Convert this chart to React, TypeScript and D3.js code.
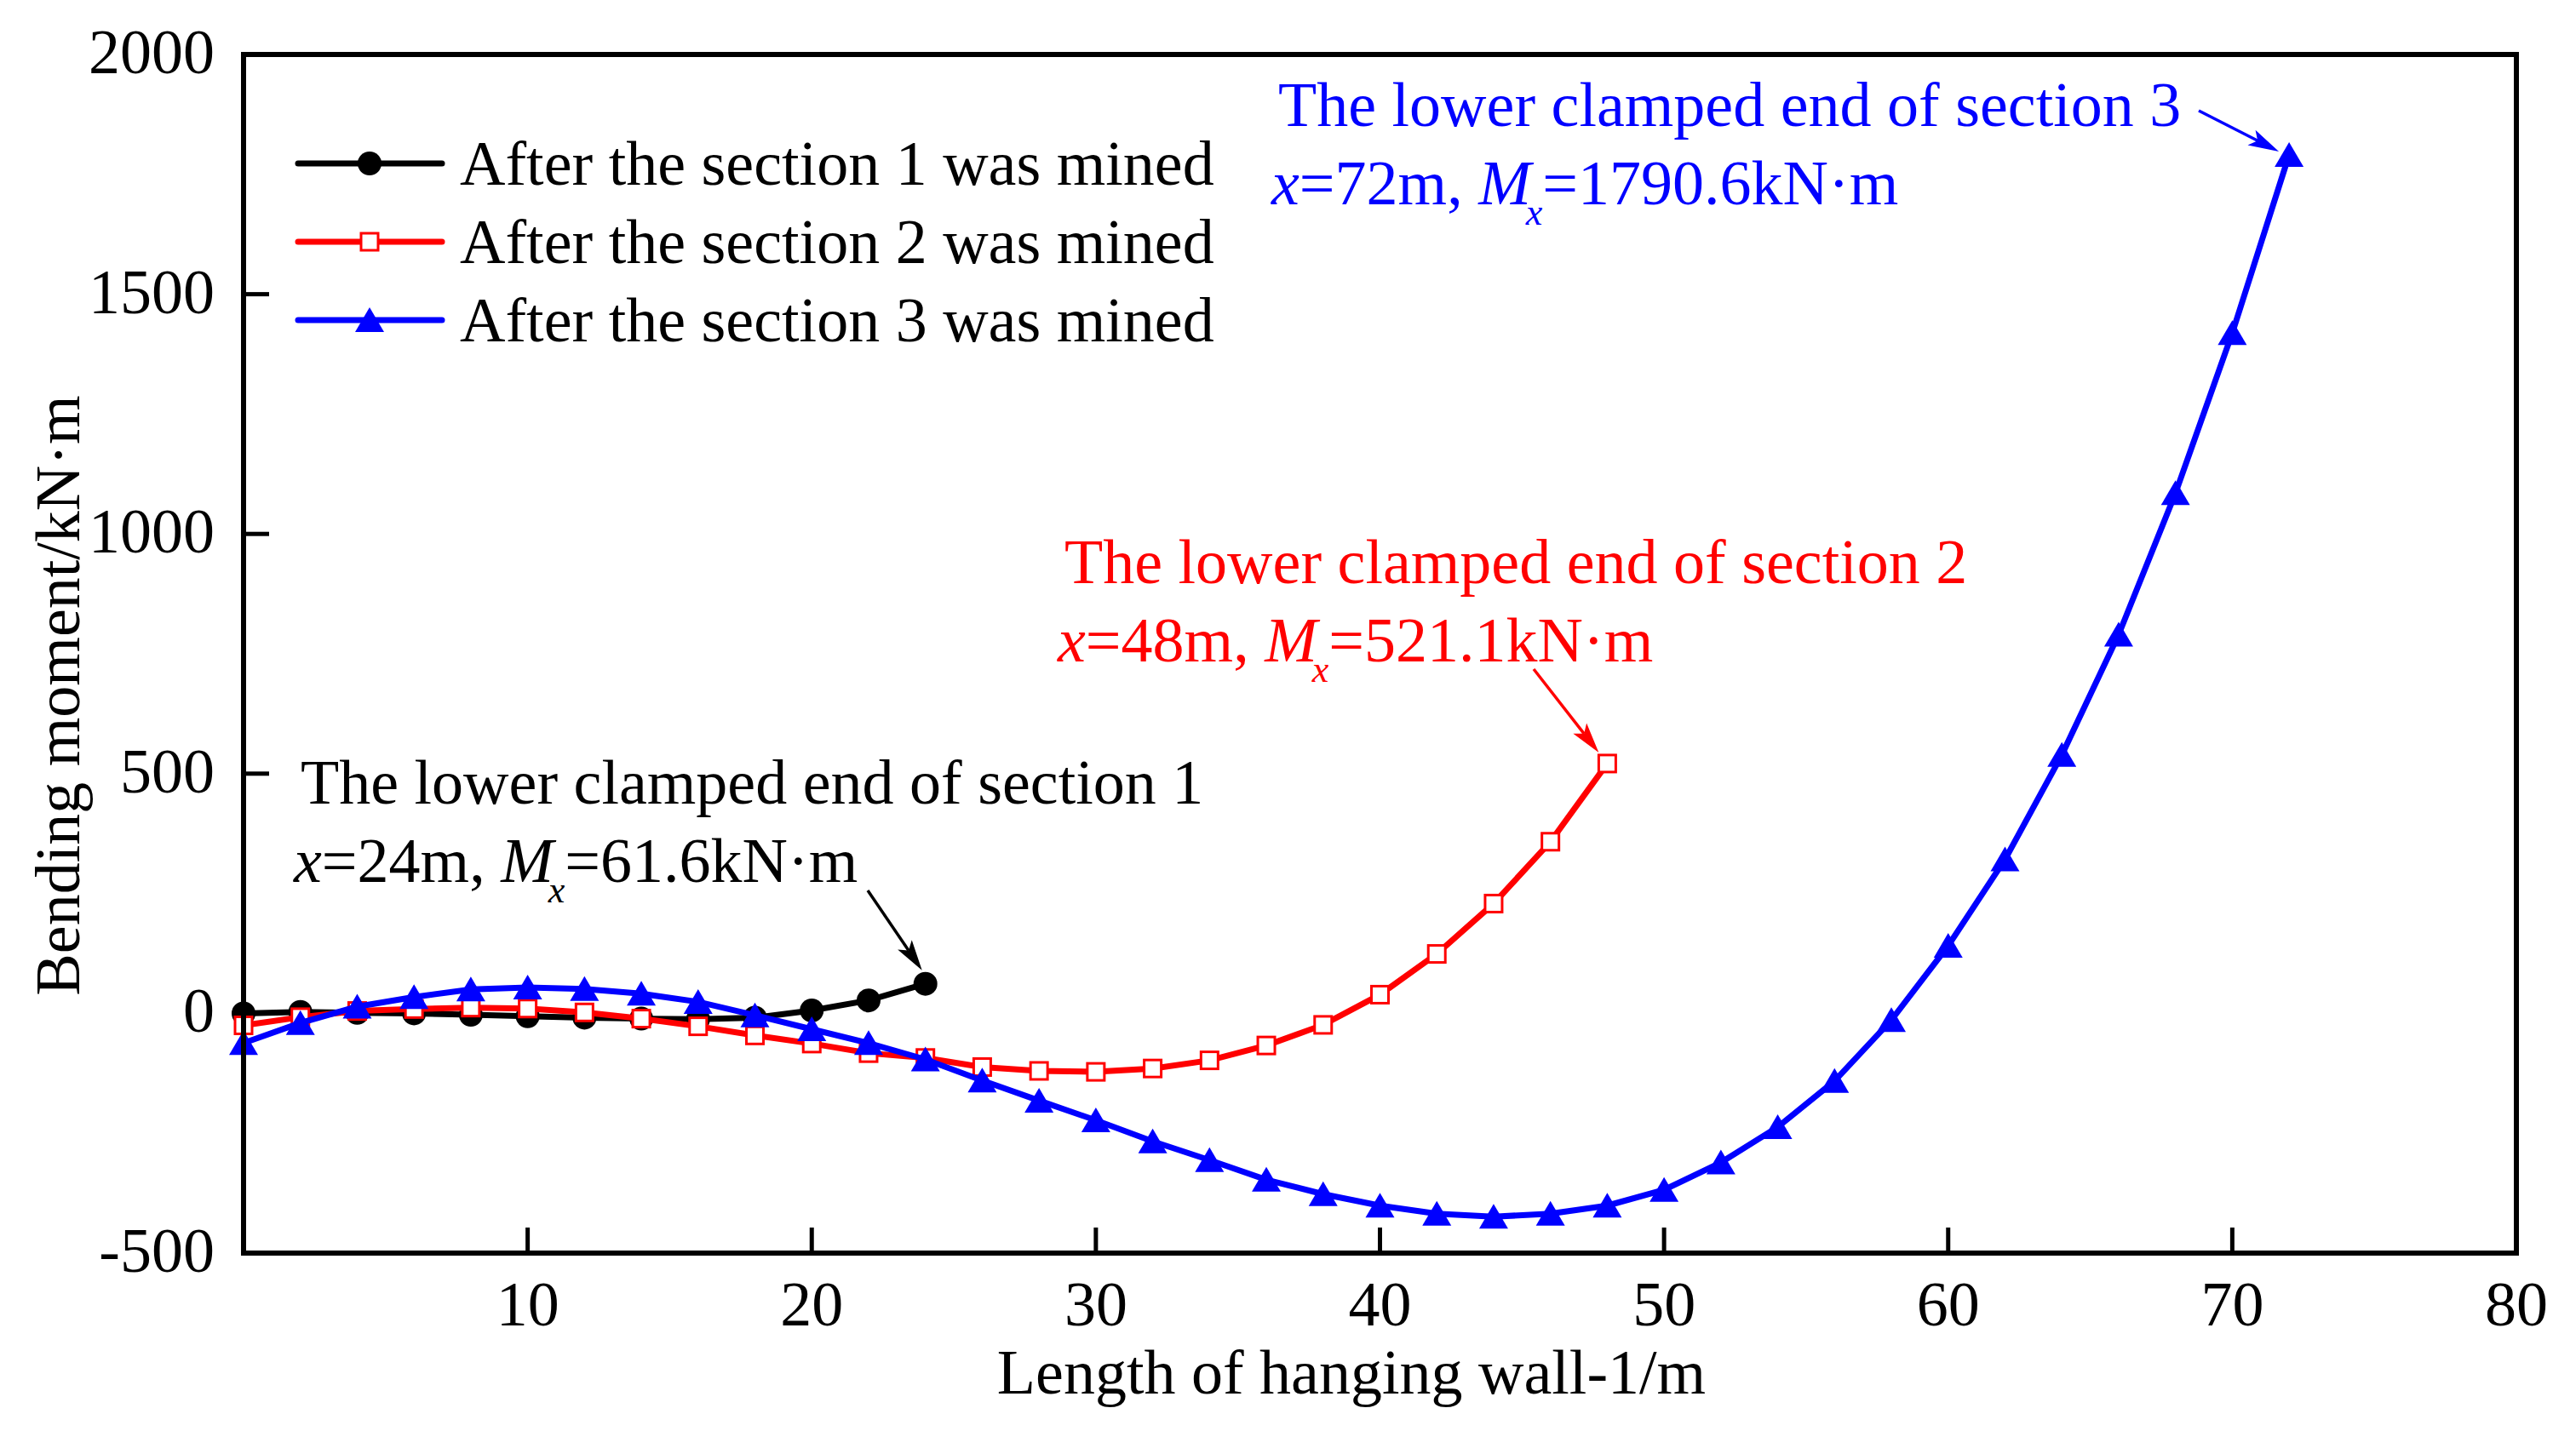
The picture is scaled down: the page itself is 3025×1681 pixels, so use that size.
import * as d3 from "d3";

// x positions (m)
const xs1 = d3.range(0, 25, 2);
const xs2 = d3.range(0, 49, 2);
const xs3 = d3.range(0, 73, 2);

// bending moment values (kN·m)
const m1 = [0, 3, 1, 0, -3, -6, -9, -11, -12, -9, 6, 27, 61.6];
const m2 = [-25, -8, 5, 9, 12, 10, 2, -11, -27, -46, -63, -83, -93, -112, -120, -122, -115, -98, -67, -24, 39, 124, 229, 358, 521.1];
const m3 = [-62, -20, 14, 34, 50, 54, 51, 41, 24, -4, -33, -62, -96, -140, -182, -223, -267, -306, -347, -377, -401, -418, -424, -418, -401, -368, -311, -237, -141, -14, 141, 321, 539, 790, 1085, 1419, 1790.6];

const xTicks = [10, 20, 30, 40, 50, 60, 70, 80];
const yTicks = [-500, 0, 500, 1000, 1500, 2000];

const legendLabels = [
  "After the section 1 was mined",
  "After the section 2 was mined",
  "After the section 3 was mined",
];

const W = 3025;
const H = 1681;
const FONT = "'Times New Roman', 'Liberation Serif', serif";
const FS = 74;

type Pt = { x: number; y: number };

export default function App() {
  const x = d3.scaleLinear().domain([0, 80]).range([286, 2955]);
  const y = d3.scaleLinear().domain([-500, 2000]).range([1472, 64]);

  const s1: Pt[] = xs1.map((v, i) => ({ x: v, y: m1[i] }));
  const s2: Pt[] = xs2.map((v, i) => ({ x: v, y: m2[i] }));
  const s3: Pt[] = xs3.map((v, i) => ({ x: v, y: m3[i] }));

  const line = d3
    .line<Pt>()
    .x((d) => x(d.x))
    .y((d) => y(d.y));

  const tri = (cx: number, cy: number) =>
    `M${cx},${cy - 15}L${cx - 17},${cy + 14}L${cx + 17},${cy + 14}Z`;

  const circle = (cx: number, cy: number, k: string | number) => (
    <circle key={k} cx={cx} cy={cy} r={14} fill="#000" />
  );
  const square = (cx: number, cy: number, k: string | number) => (
    <rect key={k} x={cx - 10} y={cy - 10} width={20} height={20} fill="#fff" stroke="#f00" strokeWidth={3} />
  );
  const triangle = (cx: number, cy: number, k: string | number) => (
    <path key={k} d={tri(cx, cy)} fill="#00f" />
  );

  const left = x(0);
  const right = x(80);
  const top = y(2000);
  const bottom = y(-500);

  // annotation arrow
  const arrow = (x1: number, y1: number, x2: number, y2: number, color: string) => {
    const a = Math.atan2(y2 - y1, x2 - x1);
    const L = 36;
    const w = 10;
    const bx = x2 - L * Math.cos(a);
    const by = y2 - L * Math.sin(a);
    const px = -Math.sin(a) * w;
    const py = Math.cos(a) * w;
    const sx = x2 - (L - 8) * Math.cos(a);
    const sy = y2 - (L - 8) * Math.sin(a);
    return (
      <g>
        <line x1={x1} y1={y1} x2={sx} y2={sy} stroke={color} strokeWidth={3.5} />
        <path
          d={`M${x2},${y2}L${bx + px},${by + py}L${sx},${sy}L${bx - px},${by - py}Z`}
          fill={color}
        />
      </g>
    );
  };

  const note = (
    tx: number,
    ty1: number,
    ty2: number,
    color: string,
    section: number,
    xv: number,
    mv: string
  ) => (
    <g fill={color} fontFamily={FONT} fontSize={FS}>
      <text x={tx + 8} y={ty1}>{`The lower clamped end of section ${section}`}</text>
      <text x={tx} y={ty2}>
        <tspan fontStyle="italic">x</tspan>
        <tspan>{`=${xv}m, `}</tspan>
        <tspan fontStyle="italic">M</tspan>
        <tspan fontStyle="italic" fontSize={44} dx={-6} dy={24}>x</tspan>
        <tspan dy={-24}>{`=${mv}kN·m`}</tspan>
      </text>
    </g>
  );

  const legendRows = [192, 284, 376];

  return (
    <svg
      width={W}
      height={H}
      style={{ position: "absolute", left: 0, top: 0, background: "#fff" }}
    >
      <rect x={0} y={0} width={W} height={H} fill="#fff" />

      {/* series */}
      <path d={line(s1) || ""} fill="none" stroke="#000" strokeWidth={7} />
      {s1.map((d, i) => circle(x(d.x), y(d.y), "c" + i))}
      <path d={line(s2) || ""} fill="none" stroke="#f00" strokeWidth={7} />
      {s2.map((d, i) => square(x(d.x), y(d.y), "s" + i))}
      <path d={line(s3) || ""} fill="none" stroke="#00f" strokeWidth={7} />
      {s3.map((d, i) => triangle(x(d.x), y(d.y), "t" + i))}

      {/* frame */}
      <rect x={left} y={top} width={right - left} height={bottom - top} fill="none" stroke="#000" strokeWidth={6} />

      {/* x ticks */}
      {xTicks.map((t) => (
        <g key={"xt" + t}>
          {t < 80 && <line x1={x(t)} x2={x(t)} y1={bottom} y2={bottom - 30} stroke="#000" strokeWidth={5} />}
          <text x={x(t)} y={1557} textAnchor="middle" fontFamily={FONT} fontSize={FS}>
            {t}
          </text>
        </g>
      ))}

      {/* y ticks */}
      {yTicks.map((t) => (
        <g key={"yt" + t}>
          {t > -500 && t < 2000 && (
            <line x1={left} x2={left + 30} y1={y(t)} y2={y(t)} stroke="#000" strokeWidth={5} />
          )}
          <text x={252} y={y(t) + 22} textAnchor="end" fontFamily={FONT} fontSize={FS}>
            {t}
          </text>
        </g>
      ))}

      {/* axis titles */}
      <text x={1587} y={1637} textAnchor="middle" fontFamily={FONT} fontSize={FS}>
        Length of hanging wall-1/m
      </text>
      <text
        transform="translate(93,817) rotate(-90)"
        textAnchor="middle"
        fontFamily={FONT}
        fontSize={FS}
      >
        Bending moment/kN·m
      </text>

      {/* legend */}
      {legendLabels.map((lab, i) => {
        const ly = legendRows[i];
        const color = ["#000", "#f00", "#00f"][i];
        return (
          <g key={"lg" + i}>
            <line x1={350} x2={519} y1={ly} y2={ly} stroke={color} strokeWidth={7} strokeLinecap="round" />
            {i === 0 && circle(434, ly, "lc")}
            {i === 1 && square(434, ly, "ls")}
            {i === 2 && triangle(434, ly, "lt")}
            <text x={540} y={ly + 25} fontFamily={FONT} fontSize={FS}>
              {lab}
            </text>
          </g>
        );
      })}

      {/* annotations */}
      {note(345, 944, 1036, "#000", 1, 24, "61.6")}
      {arrow(1019, 1046, x(24) - 4, y(61.6) - 16, "#000")}
      {note(1242, 685, 777, "#f00", 2, 48, "521.1")}
      {arrow(1801, 786, x(48) - 10, y(521.1) - 13, "#f00")}
      {note(1493, 148, 240, "#00f", 3, 72, "1790.6")}
      {arrow(2582, 130, x(72) - 12, y(1790.6) - 4, "#00f")}
    </svg>
  );
}
